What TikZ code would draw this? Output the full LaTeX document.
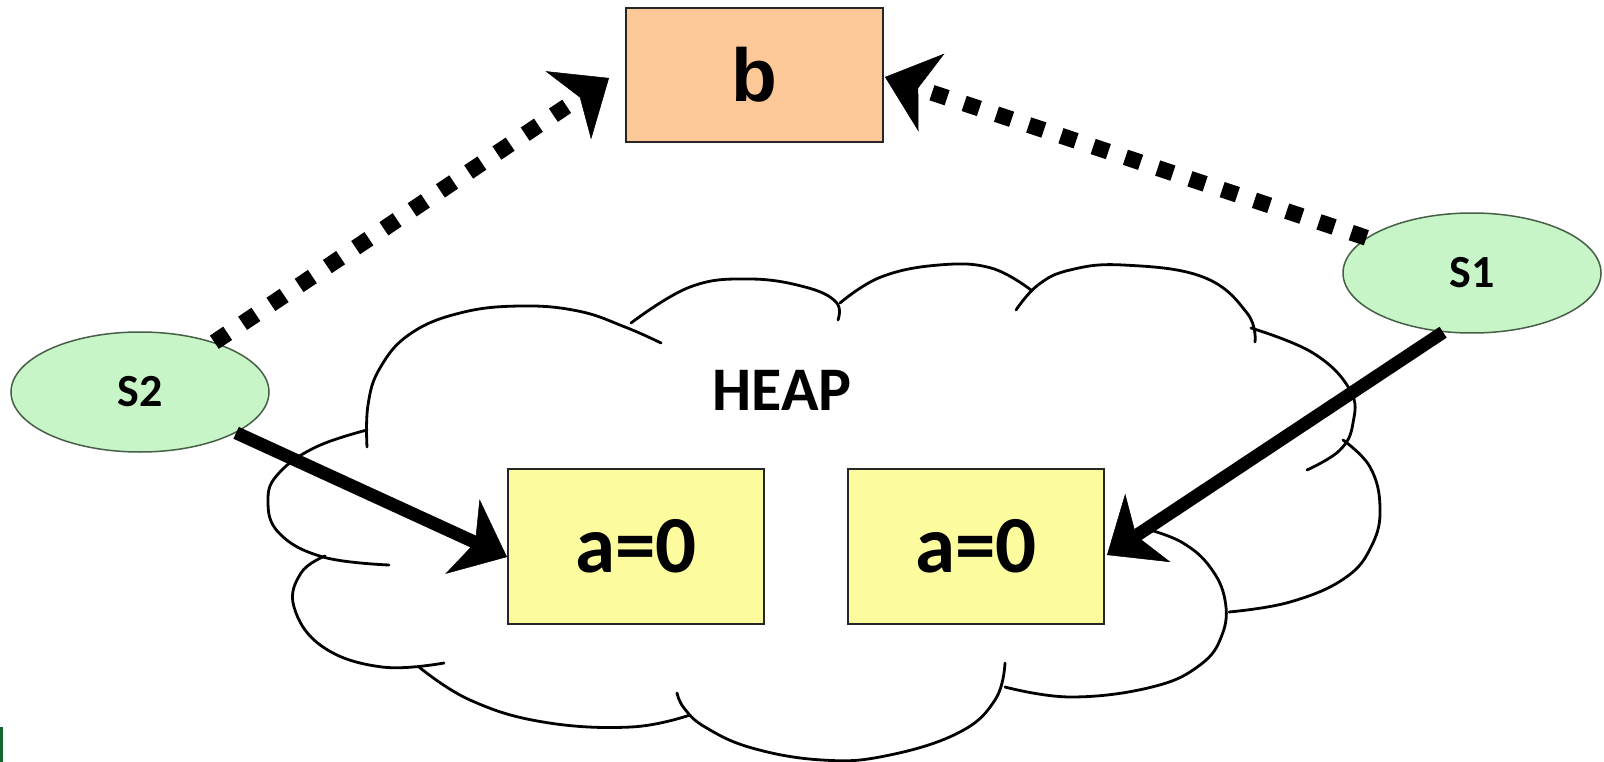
\documentclass[tikz,border=0pt]{standalone}
\usepackage{fontspec}
\setmainfont{Carlito}
\newfontfamily\arialfont{Liberation Sans}
\usetikzlibrary{arrows.meta,shapes.geometric}
\definecolor{peach}{RGB}{252,200,152}
\definecolor{lightyel}{RGB}{252,252,158}
\definecolor{lightgrn}{RGB}{200,245,200}
\definecolor{grnborder}{RGB}{70,95,70}
\definecolor{darkgrn}{RGB}{20,100,45}
\begin{document}
\begin{tikzpicture}[x=1pt,y=-1pt,
  cloudline/.style={line width=2.8pt, black, line cap=round},
  valbox/.style={draw=black!85, line width=2pt, fill=lightyel, minimum width=256pt, minimum height=155pt, inner sep=0pt, font=\bfseries\fontsize{81}{85}\selectfont},
  refbox/.style={draw=black!85, line width=2pt, fill=peach, minimum width=257pt, minimum height=134pt, inner sep=0pt, font=\arialfont\bfseries\fontsize{75}{80}\selectfont},
  stackvar/.style={ellipse, draw=grnborder, line width=1.5pt, fill=lightgrn, minimum width=258pt, minimum height=120pt, inner sep=0pt, font=\bfseries\fontsize{46}{50}\selectfont},
  dotarrow/.style={line width=16pt, dash pattern=on 16pt off 18pt, -{Stealth[length=49pt,width=82pt,inset=14pt,line width=0.5pt]}},
  solidarrow/.style={line width=13pt, -{Stealth[length=49pt,width=82pt,inset=14pt,line width=0.5pt]}}
]
\useasboundingbox (0,0) rectangle (1604,762);
\fill[white] (0,0) rectangle (1604,762);
\fill[darkgrn] (0,727) rectangle (3,762);

% cloud
\draw[cloudline] plot[smooth, tension=0.7] coordinates {(367,447) (368,405) (380,368) (410,334) (460,313) (520,306) (578,311) (625,327) (661,343)};
\draw[cloudline] plot[smooth, tension=0.7] coordinates {(631,323) (690,287) (749,279) (805,287) (836,302) (838,320)};
\draw[cloudline] plot[smooth, tension=0.7] coordinates {(840,303) (881,277) (939,265) (991,268) (1031,290)};
\draw[cloudline] plot[smooth, tension=0.7] coordinates {(1016,310) (1038,285) (1070,270) (1123,265) (1203,277) (1247,313) (1255,342)};
\draw[cloudline] plot[smooth, tension=0.7] coordinates {(1251,328) (1313,353) (1350,390) (1353,423) (1340,450) (1307,470)};
\draw[cloudline] plot[smooth, tension=0.7] coordinates {(1343,440) (1370,467) (1380,507) (1372,545) (1345,578) (1290,602) (1229,612)};
\draw[cloudline] plot[smooth, tension=0.7] coordinates {(1150,530) (1183,543) (1210,567) (1225,600) (1222,635) (1200,665) (1152,687) (1071,697) (1005,687)};
\draw[cloudline] plot[smooth, tension=0.7] coordinates {(1005,663) (995,700) (958,733) (885,756) (822,760) (752,748) (705,727) (684,708) (677,693)};
\draw[cloudline] plot[smooth, tension=0.7] coordinates {(690,715) (631,727) (543,722) (470,700) (419,667)};
\draw[cloudline] plot[smooth, tension=0.7] coordinates {(444,663) (382,667) (323,647) (294,607) (301,573) (325,556)};
\draw[cloudline] plot[smooth, tension=0.7] coordinates {(367,430) (316,447) (279,473) (268,500) (279,533) (323,557) (389,565)};

\node[font=\bfseries\fontsize{62}{66}\selectfont] (heap) at (782,390) {HEAP};

\node[refbox] (b) at (754.5,75) {b};
\node[valbox] (a1) at (636,546.5) {a=0};
\node[valbox] (a2) at (976,546.5) {a=0};
\node[stackvar] (s2) at (140,392) {S2};
\node[stackvar] (s1) at (1472,273) {S1};

\coordinate (tipL) at (609,78);
\coordinate (tipR) at (885,77);
\coordinate (tipA) at (507,557);
\coordinate (tipB) at (1107,555);

\draw[dotarrow] (s2) -- (tipL);
\draw[dotarrow] (s1) -- (tipR);
\draw[solidarrow] (s2.337) -- (tipA);
\draw[solidarrow] (s1.244) -- (tipB);
\end{tikzpicture}
\end{document}
